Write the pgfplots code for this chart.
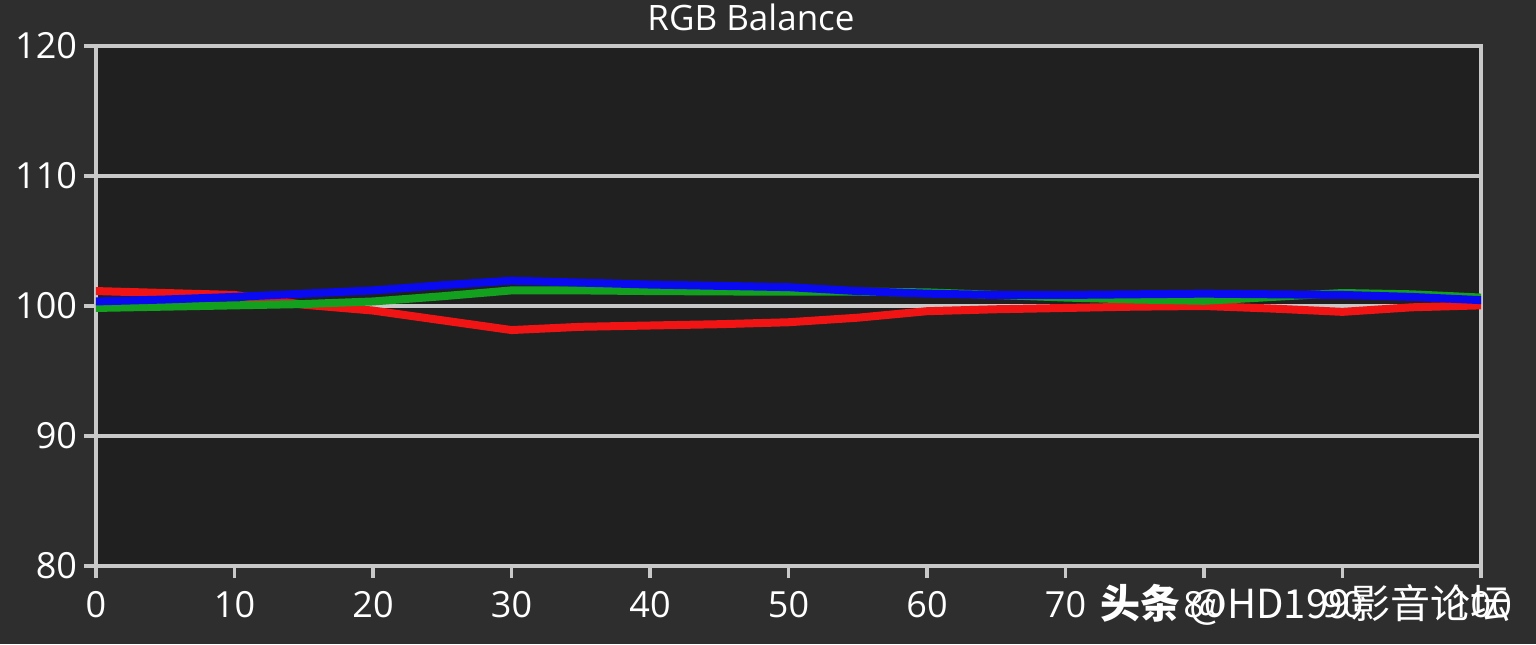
\documentclass[border=0pt]{standalone}
\usepackage{fontspec}
\setmainfont{Open Sans}
\newfontfamily\cjk{Noto Sans CJK SC}
\usepackage{pgfplots}
\pgfplotsset{compat=1.18}

\definecolor{outerbg}{HTML}{2E2E2E}
\definecolor{plotbg}{HTML}{202020}
\definecolor{frame}{HTML}{C8C8C8}
\definecolor{rline}{HTML}{F01414}
\definecolor{gline}{HTML}{12A01E}
\definecolor{bline}{HTML}{0A0AF0}

\begin{document}
\begin{tikzpicture}
% outer background = page size (768pt x 322pt)
\fill[outerbg] (-48pt,-39pt) rectangle (720pt,283pt);
\begin{axis}[
    anchor=south west, at={(0,0)},
    scale only axis,
    width=692.5pt, height=260pt,
    xmin=0, xmax=100, ymin=80, ymax=120,
    xtick={0,10,...,100}, ytick={80,90,...,120},
    axis background/.style={fill=plotbg},
    axis line style={draw=frame, line width=2.2pt},
    ymajorgrids,
    major grid style={draw=frame, line width=1.9pt},
    tick align=outside,
    major tick length=6pt,
    tick style={draw=frame, line width=1.6pt},
    xtick pos=bottom, ytick pos=left,
    /pgf/number format/assume math mode=true,
    ticklabel style={font=\fontsize{18}{18}\selectfont, text=white},
    xticklabel style={yshift=-3pt},
    clip=true,
    every axis plot/.append style={line width=4pt, line join=round, line cap=round},
]
\addplot[rline] coordinates {
  (0,101.15) (5,101.0) (10,100.85) (15,100.1) (20,99.65) (25,98.9) (30,98.15)
  (35,98.4) (40,98.5) (45,98.6) (50,98.75) (55,99.1) (60,99.6) (65,99.75)
  (70,99.85) (75,99.95) (80,100.0) (85,99.8) (90,99.55) (95,99.9) (100,100.05)
};
\addplot[gline] coordinates {
  (0,99.85) (5,99.95) (10,100.05) (15,100.15) (20,100.35) (25,100.75) (30,101.2)
  (35,101.2) (40,101.15) (45,101.12) (50,101.1) (55,101.1) (60,101.05) (65,100.85)
  (70,100.65) (75,100.5) (80,100.4) (85,100.7) (90,101.0) (95,100.9) (100,100.65)
};
\addplot[bline] coordinates {
  (0,100.35) (5,100.5) (10,100.7) (15,100.95) (20,101.2) (25,101.6) (30,101.95)
  (35,101.8) (40,101.65) (45,101.55) (50,101.45) (55,101.15) (60,100.95) (65,100.85)
  (70,100.85) (75,100.9) (80,100.95) (85,100.9) (90,100.85) (95,100.7) (100,100.45)
};
\end{axis}
\node[anchor=base, text=white, font=\fontsize{17.5}{17.5}\selectfont, inner sep=0pt]
  at (327.5pt,267.5pt) {RGB Balance};
\node[anchor=base west, text=white, font=\cjk\fontsize{20}{20}\selectfont, inner sep=0pt]
  at (502pt,-26pt) {{\bfseries 头条} @HD199影音论坛};
\end{tikzpicture}
\end{document}
